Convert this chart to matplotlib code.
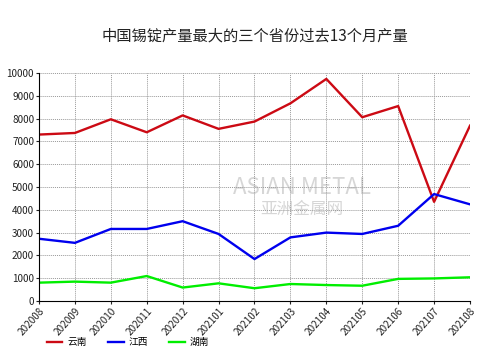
import matplotlib
matplotlib.use("Agg")
import matplotlib.pyplot as plt

plt.rcParams['font.family'] = ['Noto Sans CJK SC', 'DejaVu Sans']

# ==========================
# Dados
# ==========================
meses = ["202008", "202009", "202010", "202011", "202012", "202101", "202102",
         "202103", "202104", "202105", "202106", "202107", "202108"]
yunnan = [7300, 7370, 7970, 7400, 8140, 7550, 7870, 8670, 9740, 8060, 8550, 4350, 7690]
jiangxi = [2730, 2550, 3160, 3160, 3500, 2940, 1840, 2790, 3000, 2940, 3300, 4690, 4240]
hunan = [805, 850, 805, 1095, 590, 775, 560, 745, 700, 670, 970, 990, 1040]

# ==========================
# Gráfico
# ==========================
fig = plt.figure(figsize=(4.99, 3.52), dpi=100)
ax = fig.add_axes([39 / 499, 1 - 301 / 352, 431 / 499, 228 / 352])

x = range(len(meses))
ax.plot(x, yunnan, color="#cc0a14", lw=1.7, label="云南")
ax.plot(x, jiangxi, color="#0000ee", lw=1.7, label="江西")
ax.plot(x, hunan, color="#00ee00", lw=1.7, label="湖南")

ax.set_xlim(0, len(meses) - 1)
ax.set_ylim(0, 10000)
ax.set_yticks(range(0, 10001, 1000))
ax.set_xticks(list(x))
ax.set_xticklabels(meses, rotation=48, ha="right", rotation_mode="anchor")
ax.tick_params(axis="both", labelsize=7.2, length=2, pad=1.5, colors="#222222")
ax.grid(True, color="#999999", linestyle=(0, (1, 1)), linewidth=0.7)
ax.set_axisbelow(True)
ax.spines["top"].set_visible(False)
ax.spines["right"].set_visible(False)

# marca d'agua
ax.text(0.61, 0.50, "ASIAN METAL", transform=ax.transAxes, fontsize=16,
        color="#d6d6d6", ha="center", va="center", zorder=0)
ax.text(0.61, 0.40, "亚洲金属网", transform=ax.transAxes, fontsize=12,
        color="#d6d6d6", ha="center", va="center", zorder=0)

fig.text(255 / 499, 1 - 36 / 352, "中国锡锭产量最大的三个省份过去13个月产量",
         ha="center", va="center", fontsize=11, color="#222222")

fig.legend(loc="center left", bbox_to_anchor=(38 / 499, 1 - 342 / 352), ncol=3,
           frameon=False, fontsize=7, handlelength=1.6, columnspacing=2.2,
           handletextpad=0.5)

plt.savefig("out.png", dpi=100)
